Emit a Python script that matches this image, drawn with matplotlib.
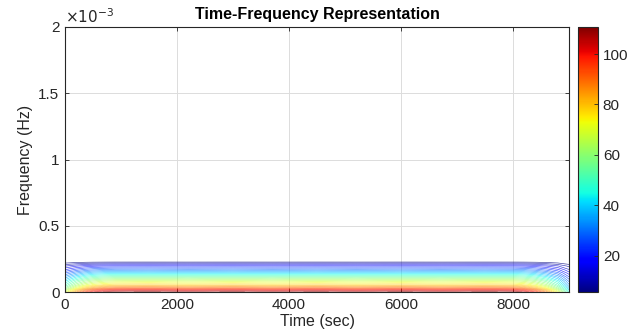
import numpy as np
import matplotlib
matplotlib.use("Agg")
import matplotlib.pyplot as plt

plt.rcParams['font.family'] = ['Liberation Sans', 'DejaVu Sans']

# Frequency profile of the spectral power (Hz -> power)
freq_hz = np.array([0, 0.015, 0.03, 0.053, 0.083, 0.113, 0.143, 0.166, 0.196,
                    0.226, 0.26, 0.4, 1.0, 2.0]) * 1e-3
power = np.array([110.5, 102, 92, 80, 68, 55, 42, 32, 20, 6, 2, 0.5, 0, 0])

# Time gain (edge effects and small ripple)
time_sec = np.array([0, 100, 200, 350, 500, 700, 900, 1500, 2200, 3000, 3700,
                     4500, 5200, 6000, 6700, 7500, 8000, 8200, 8400, 8600,
                     8800, 9000])
gain = np.array([0.62, 0.70, 0.78, 0.87, 0.93, 0.97, 0.99, 1.0, 0.985, 1.0,
                 0.985, 1.0, 0.985, 1.0, 0.985, 1.0, 0.99, 0.96, 0.90, 0.80,
                 0.65, 0.42])

clim = (5.7, 110.7)
n_levels = 32
xticks = [0, 2000, 4000, 6000, 8000]
yticks = [0, 0.5e-3, 1e-3, 1.5e-3, 2e-3]
yticklabels = ['0', '0.5', '1', '1.5', '2']
cbar_ticks = [20, 40, 60, 80, 100]

Z = np.outer(power, gain)

fig = plt.figure(figsize=(6.32, 3.35), dpi=100)
ax = fig.add_axes([65/632, 1-292/335, 504/632, 265/335])
cax = fig.add_axes([578/632, 1-292/335, 20/632, 265/335])

levels = np.linspace(6, 110, n_levels)
norm = matplotlib.colors.Normalize(vmin=clim[0], vmax=clim[1])
cs = ax.contour(time_sec, freq_hz, Z, levels=levels, cmap='jet', norm=norm,
                linewidths=0.5, alpha=0.72)

ax.set_xlim(0, 9000)
ax.set_ylim(0, 2e-3)
ax.set_xticks(xticks)
ax.set_yticks(yticks)
ax.set_yticklabels(yticklabels)
ax.grid(True, color='#dcdcdc', linewidth=0.7)
ax.set_axisbelow(True)
axcol = '#262626'
for s in ax.spines.values():
    s.set_color(axcol)
    s.set_linewidth(0.8)
ax.tick_params(direction='in', top=True, right=True, length=3, width=0.6,
               colors=axcol, labelsize=11, pad=4)
ax.set_xlabel('Time (sec)', fontsize=11.5, color=axcol, labelpad=2)
ax.set_ylabel('Frequency (Hz)', fontsize=11.5, color=axcol, labelpad=4)
ax.set_title('Time-Frequency Representation', fontsize=11.5, fontweight='bold',
             color='black', pad=6)
ax.text(0.0, 1.005, r'$\times10^{-3}$', transform=ax.transAxes, fontsize=11,
        color=axcol, ha='left', va='bottom')

sm = matplotlib.cm.ScalarMappable(norm=norm, cmap='jet')
cb = fig.colorbar(sm, cax=cax)
cb.set_ticks(cbar_ticks)
cb.outline.set_edgecolor(axcol)
cb.outline.set_linewidth(0.8)
cax.tick_params(direction='in', length=3, width=0.6, colors=axcol,
                labelsize=11)

fig.savefig('out.png', dpi=100)
